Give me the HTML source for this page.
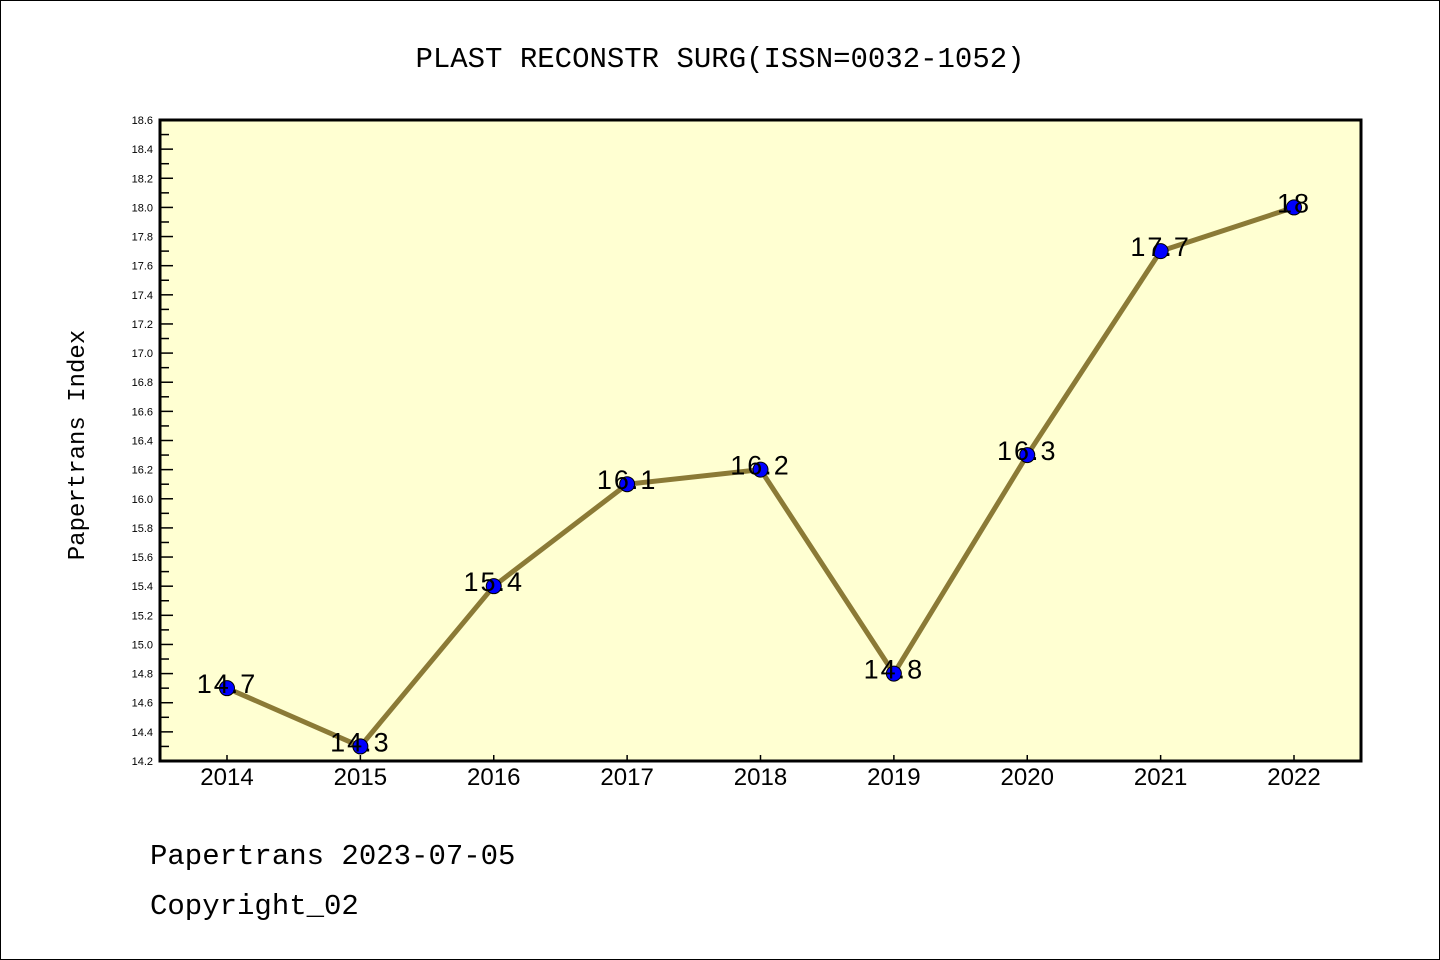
<!DOCTYPE html>
<html><head><meta charset="utf-8"><style>
html,body{margin:0;padding:0;background:#fff;}
svg{display:block;font-family:"Liberation Sans","WenQuanYi Zen Hei",sans-serif;}
</style></head><body>
<svg id="chart" width="1440" height="960" viewBox="0 0 1440 960">
<rect x="0.5" y="0.5" width="1439" height="959" fill="#fff" stroke="#000"/>
<text x="720" y="67" text-anchor="middle" font-size="29" font-family="'Liberation Mono',monospace">PLAST RECONSTR SURG(ISSN=0032-1052)</text>
<rect x="160" y="120" width="1201" height="641" fill="#ffffd2"/>
<g id="axes"></g>
<g id="series"></g>
<rect x="160" y="120" width="1201" height="641" fill="none" stroke="#000" stroke-width="3"/>
<text transform="translate(84,445) rotate(-90)" text-anchor="middle" font-size="24" font-family="'Liberation Mono',monospace">Papertrans Index</text>
<text x="150" y="864" font-size="29" font-family="'Liberation Mono',monospace">Papertrans 2023-07-05</text>
<text x="150" y="914" font-size="29" font-family="'Liberation Mono',monospace">Copyright_02</text>
</svg>
<script>
const years = ["2014","2015","2016","2017","2018","2019","2020","2021","2022"];
const values = [14.7,14.3,15.4,16.1,16.2,14.8,16.3,17.7,18];
const valueLabels = ["14.7","14.3","15.4","16.1","16.2","14.8","16.3","17.7","18"];
const yMin = 14.2, yMax = 18.6;
const NS = "http://www.w3.org/2000/svg";
function xs(i){ return 227 + i*(1294-227)/(years.length-1); }
function ys(v){ return 761 - (v-yMin)/(yMax-yMin)*641; }
function mk(tag, attrs, parent){ const e=document.createElementNS(NS,tag); for(const k in attrs) e.setAttribute(k,attrs[k]); parent.appendChild(e); return e; }
const axes=document.getElementById('axes'), series=document.getElementById('series');
for(let k=0;k<=44;k++){
  const v=yMin+k*0.1, y=ys(v), major=k%2===0;
  const t=mk('line',{x1:160,x2:major?173:169,y1:y,y2:y,stroke:'#000','stroke-width':1.5},axes);
  
  
  if(major){
    const l=mk('text',{x:153,y:y+4,'text-anchor':'end','font-size':11},axes);
    l.textContent=v.toFixed(1);
    
    
  }
}
years.forEach((yr,i)=>{
  const x=xs(i);
  const t=mk('line',{x1:x,x2:x,y1:761,y2:755,stroke:'#000','stroke-width':1.5},axes);
  
  
  const l=mk('text',{x:x,y:785,'text-anchor':'middle','font-size':24},axes);
  l.textContent=yr;
  
  
});
const pts=values.map((v,i)=>xs(i)+','+ys(v)).join(' ');
const line=mk('polyline',{points:pts,fill:'none',stroke:'#8b7a36','stroke-width':5,'stroke-linejoin':'round'},series);


values.forEach((v,i)=>{
  const c=mk('circle',{cx:xs(i),cy:ys(v),r:7.5,fill:'#0000ff',stroke:'#000','stroke-width':1},series);
  
  
  const l=mk('text',{x:xs(i),y:ys(v)+5,'text-anchor':'middle','font-size':27,'letter-spacing':'2'},series);
  l.textContent=valueLabels[i];
  
  
});
</script>
</body></html>
